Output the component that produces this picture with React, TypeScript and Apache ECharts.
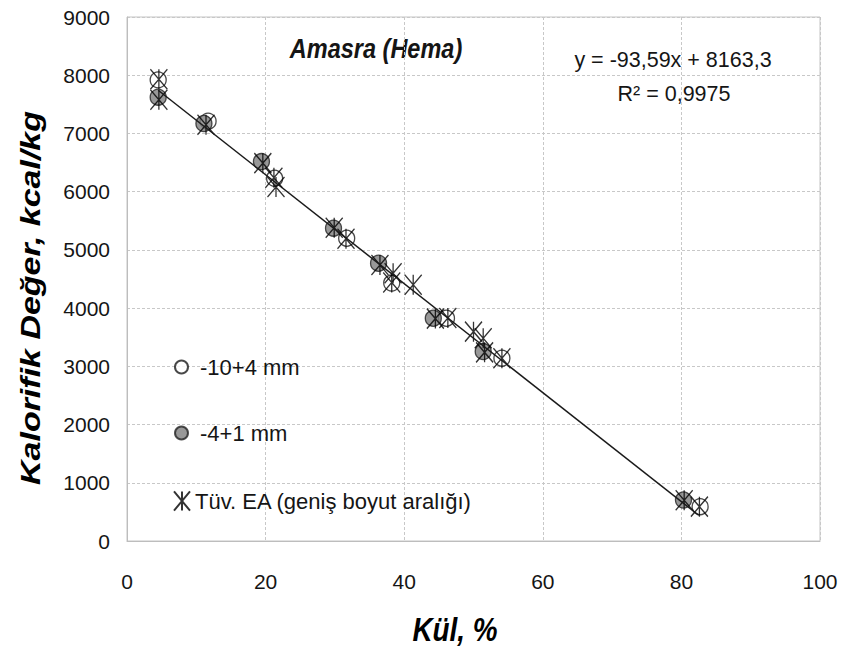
import React, { useEffect, useRef } from "react";
import * as echarts from "echarts";

// Data
const seriesOpenName = "-10+4 mm";
const seriesGrayName = "-4+1 mm";
const seriesStarName = "Tüv. EA (geniş boyut aralığı)";

const openCircle: number[][] = [
  [4.5, 7920], [11.7, 7210], [21.3, 6230], [31.7, 5200],
  [38.2, 4430], [46.1, 3826], [54.1, 3140], [82.7, 590],
];
const grayCircle: number[][] = [
  [4.5, 7623], [11.1, 7170], [19.4, 6517], [29.8, 5373],
  [36.3, 4771], [44.2, 3826], [51.4, 3253], [80.3, 704],
];
const asterisk: number[][] = [
  [4.6, 7930], [4.6, 7580], [11.4, 7150], [19.6, 6490], [21.5, 6080], [21.2, 6240],
  [29.9, 5380], [31.6, 5190], [36.5, 4740], [38.4, 4600], [38.2, 4440], [41.3, 4400],
  [44.5, 3820], [46.3, 3830], [50.0, 3596], [51.4, 3482], [51.6, 3240],
  [54.1, 3140], [80.4, 700], [82.6, 590],
];
const trendLine: number[][] = [[4.5, 7742], [82.5, 442]];

const xMin = 0, xMax = 100, xStep = 20;
const yMin = 0, yMax = 9000, yStep = 1000;

const title = "Amasra (Hema)";
const equation = "y = -93,59x + 8163,3";
const rSquared = "R² = 0,9975";
const xTitle = "Kül, %";
const yTitle = "Kalorifik Değer, kcal/kg";

const SANS = "'Liberation Sans', Arial, sans-serif";
const TXT = "#151515";

const starPath = "path://M0,0L10,12M10,0L0,12M5,0L5,12";

export default function App() {
  const ref = useRef<HTMLDivElement>(null);
  useEffect(() => {
    if (!ref.current) return;
    const chart = echarts.init(ref.current, null, { renderer: "svg" });
    const legendBase = {
      orient: "vertical" as const,
      padding: 0,
      selectedMode: false,
      textStyle: { fontFamily: SANS, fontSize: 22, color: TXT },
    };
    chart.setOption({
      animation: false,
      backgroundColor: "#ffffff",
      grid: {
        left: 127, top: 17, right: 22, bottom: 112,
        show: true, borderColor: "#c4c4c4", borderWidth: 1,
        containLabel: false,
      },
      xAxis: {
        type: "value", min: xMin, max: xMax, interval: xStep,
        axisLine: { show: true, lineStyle: { color: "#bdbdbd", width: 1 } },
        axisTick: { show: false },
        splitLine: { show: true, lineStyle: { color: "#c8c8c8", type: [3, 2], width: 1 } },
        axisLabel: { fontFamily: SANS, fontSize: 21, color: TXT, margin: 30 },
      },
      yAxis: {
        type: "value", min: yMin, max: yMax, interval: yStep,
        axisLine: { show: true, lineStyle: { color: "#bdbdbd", width: 1 } },
        axisTick: { show: false },
        splitLine: { show: true, lineStyle: { color: "#c8c8c8", type: [3, 2], width: 1 } },
        axisLabel: {
          fontFamily: SANS, fontSize: 21, color: TXT, margin: 17,
          formatter: (v: number) => String(v),
        },
      },
      legend: [
        {
          ...legendBase, left: 174, top: 356, itemWidth: 13, itemHeight: 13,
          data: [seriesOpenName],
          textStyle: { ...legendBase.textStyle, padding: [0, 0, 0, 7] },
        },
        {
          ...legendBase, left: 174, top: 422, itemWidth: 13, itemHeight: 13,
          data: [seriesGrayName],
          textStyle: { ...legendBase.textStyle, padding: [0, 0, 0, 7] },
        },
        {
          ...legendBase, left: 173, top: 490, itemWidth: 16, itemHeight: 20,
          data: [seriesStarName],
        },
      ],
      series: [
        {
          name: seriesOpenName, type: "scatter", data: openCircle,
          symbol: "circle", symbolSize: 16, z: 2,
          itemStyle: { color: "#ffffff", borderColor: "#1a1a1a", borderWidth: 1.3 },
        },
        {
          name: seriesGrayName, type: "scatter", data: grayCircle,
          symbol: "circle", symbolSize: 16, z: 3,
          itemStyle: { color: "#7e7e7e", borderColor: "#222222", borderWidth: 1.3 },
        },
        {
          name: seriesStarName, type: "scatter", data: asterisk,
          symbol: starPath, symbolSize: [17, 20], z: 4,
          itemStyle: { color: "rgba(0,0,0,0)", borderColor: "#000000", borderWidth: 1.4 },
        },
        {
          name: "trend", type: "line", data: trendLine, symbol: "none", z: 5,
          lineStyle: { color: "#1a1a1a", width: 1.5 },
          silent: true,
        },
      ],
      graphic: [
        {
          type: "text", x: 376, y: 48, scaleX: 0.84,
          style: {
            text: title, font: `italic bold 28px ${SANS}`, fill: TXT,
            align: "center", verticalAlign: "middle",
          },
        },
        {
          type: "text", x: 673, y: 60,
          style: {
            text: equation, font: `21.5px ${SANS}`, fill: TXT,
            align: "center", verticalAlign: "middle",
          },
        },
        {
          type: "text", x: 674, y: 94,
          style: {
            text: rSquared, font: `21.5px ${SANS}`, fill: TXT,
            align: "center", verticalAlign: "middle",
          },
        },
        {
          type: "text", x: 455, y: 630, scaleX: 0.82,
          style: {
            text: xTitle, font: `italic bold 34px ${SANS}`, fill: "#000",
            align: "center", verticalAlign: "middle",
          },
        },
        {
          type: "text", x: 31, y: 298, rotation: Math.PI / 2, scaleY: 0.82,
          style: {
            text: yTitle, font: `italic bold 34px ${SANS}`, fill: "#000",
            align: "center", verticalAlign: "middle",
          },
        },
      ],
    });
    return () => chart.dispose();
  }, []);
  return (
    <div
      ref={ref}
      style={{ position: "absolute", left: 0, top: 0, width: 842, height: 653 }}
    />
  );
}
